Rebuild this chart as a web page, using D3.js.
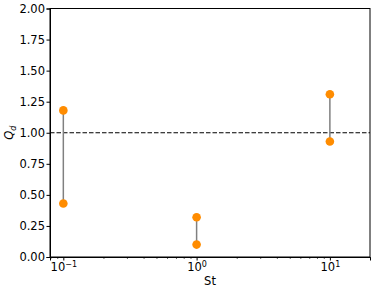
<!DOCTYPE html>
<html>
<head>
<meta charset="utf-8">
<script src="https://cdn.jsdelivr.net/npm/d3@7"></script>
<style>
  body { margin: 0; background: #fff; }
  svg text { font-family: "DejaVu Sans", sans-serif; fill: #000; }
</style>
</head>
<body>
<svg id="chart" width="374" height="292"></svg>
<script>
// Data
const stokes = [0.1, 1, 10];
const qHigh = [1.18, 0.32, 1.31];
const qLow = [0.43, 0.10, 0.93];
const yTicks = [0, 0.25, 0.5, 0.75, 1.0, 1.25, 1.5, 1.75, 2.0];
const xMajor = [0.1, 1, 10];
const xExp = ['−1', '0', '1'];

const M = { left: 50, right: 4, top: 8.5, bottom: 35 };
const W = 374, H = 292;
const iw = W - M.left - M.right, ih = H - M.top - M.bottom;

const svg = d3.select('#chart');
const g = svg.append('g').attr('transform', `translate(${M.left},${M.top})`);

const x = d3.scaleLog().domain([Math.pow(10, -1.1), 20]).range([0, iw]);
const y = d3.scaleLinear().domain([0, 2]).range([ih, 0]);

// reference line at 1
g.append('line')
  .attr('x1', 0).attr('x2', iw)
  .attr('y1', y(1)).attr('y2', y(1))
  .attr('stroke', '#000').attr('stroke-width', 1.2)
  .attr('stroke-dasharray', '4.5,2');

// connecting lines
stokes.forEach((s, i) => {
  g.append('line')
    .attr('x1', x(s)).attr('x2', x(s))
    .attr('y1', y(qLow[i])).attr('y2', y(qHigh[i]))
    .attr('stroke', '#808080').attr('stroke-width', 1.5);
});

// markers
const pts = stokes.flatMap((s, i) => [[s, qHigh[i]], [s, qLow[i]]]);
g.selectAll('circle.pt').data(pts).join('circle')
  .attr('class', 'pt')
  .attr('cx', d => x(d[0])).attr('cy', d => y(d[1]))
  .attr('r', 4.3).attr('fill', '#ff8c00');

// y axis
const yAxis = g.append('g')
  .call(d3.axisLeft(y).tickValues(yTicks).tickFormat(d3.format('.2f')).tickSize(3.5).tickPadding(1.5));
yAxis.selectAll('text').style('font-size', '11.5px');

// x axis: minor ticks
const minor = [];
[0.01, 0.1, 1, 10].forEach(b => { for (let k = 2; k <= 9; k++) { const v = b * k; if (v >= x.domain()[0] && v <= x.domain()[1]) minor.push(v); } });
const xMinor = g.append('g').attr('transform', `translate(0,${ih})`)
  .call(d3.axisBottom(x).tickValues(minor).tickFormat('').tickSize(2));
xMinor.select('.domain').remove();
xMinor.selectAll('line').attr('stroke-width', 0.6);

const xAxis = g.append('g').attr('transform', `translate(0,${ih})`)
  .call(d3.axisBottom(x).tickValues(xMajor).tickFormat('').tickSize(3.5));
xAxis.selectAll('.tick').each(function(d, i) {
  const t = d3.select(this).append('text').attr('y', 14).attr('text-anchor', 'middle').style('font-size', '11.5px');
  t.append('tspan').text('10');
  t.append('tspan').attr('dy', -4.5).style('font-size', '8px').text(xExp[i]);
});

// frame
g.append('rect').attr('width', iw).attr('height', ih)
  .attr('fill', 'none').attr('stroke', '#000').attr('stroke-width', 1);

// labels
svg.append('text').attr('x', M.left + iw / 2).attr('y', 285)
  .attr('text-anchor', 'middle').style('font-size', '11.5px').text('St');

const yl = svg.append('text')
  .attr('transform', `translate(13,${M.top + y(1)}) rotate(-90)`)
  .attr('text-anchor', 'middle').style('font-size', '11.5px');
yl.append('tspan').style('font-style', 'italic').text('Q');
yl.append('tspan').attr('dy', 2.5).style('font-size', '8px').style('font-style', 'italic').text('d');
</script>
</body>
</html>
